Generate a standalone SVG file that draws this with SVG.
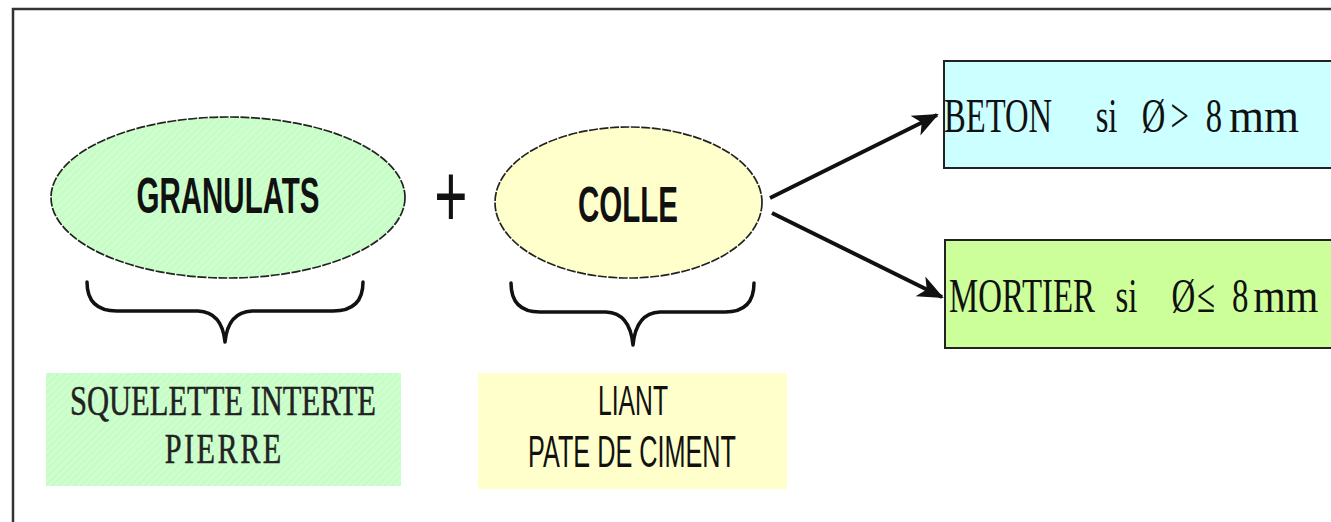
<svg xmlns="http://www.w3.org/2000/svg" width="1331" height="522" viewBox="0 0 1331 522">
  <style>
    .frame { fill: none; stroke: #333; stroke-width: 2.5; }
    .oval { stroke: #222; stroke-width: 1.7; stroke-dasharray: 9 1.5; }
    .title { font-family: "Liberation Sans", Arial, sans-serif; font-weight: bold; font-size: 50px; fill: #111; text-anchor: middle; }
    .sans { font-family: "Liberation Sans", Arial, sans-serif; fill: #111; text-anchor: middle; }
    .slab { font-family: "Liberation Serif", "Times New Roman", serif; fill: #222; font-size: 42px; text-anchor: middle; stroke: #222; stroke-width: 0.5; }
    .serif { font-family: "Liberation Serif", "Times New Roman", serif; fill: #111; font-size: 48px; }
    .box { stroke: #222; stroke-width: 2; }
    .brace { fill: none; stroke: #111; stroke-width: 3.5; stroke-linecap: round; stroke-linejoin: round; }
    .arrow { fill: none; stroke: #111; stroke-width: 4; marker-end: url(#head); }
  </style>
  <defs>
    <pattern id="hatchGreen" width="5" height="5" patternUnits="userSpaceOnUse" patternTransform="rotate(45)">
      <rect width="5" height="5" fill="#ccffcc"/>
      <line x1="0" y1="0" x2="0" y2="5" stroke="#bdf2bd" stroke-width="1.2"/>
    </pattern>
    <marker id="head" markerUnits="userSpaceOnUse" markerWidth="32" markerHeight="28" refX="0" refY="0" viewBox="-28 -14 32 28" orient="auto">
      <path d="M2,0 L-24,-11 L-17,0 L-24,11 Z" fill="#111"/>
    </marker>
  </defs>

  <rect width="1331" height="522" fill="#ffffff"/>
  <rect class="frame" x="13" y="9" width="1400" height="600"/>

  <!-- left term: aggregate -->
  <g id="granulats">
    <ellipse class="oval" cx="228" cy="197.5" rx="177" ry="80.5" fill="url(#hatchGreen)"/>
    <g transform="translate(228,213) scale(0.59,1)">
      <text class="title" x="0" y="0">GRANULATS</text>
    </g>
  </g>

  <!-- plus sign between the two terms, stretched to its tall shape -->
  <g id="plus">
    <g transform="translate(451,227) scale(0.95,1.5)">
      <text class="sans" x="0" y="0" font-size="60">+</text>
    </g>
  </g>

  <!-- right term: binder -->
  <g id="colle">
    <ellipse class="oval" cx="628.5" cy="202.5" rx="133.5" ry="75.5" fill="#ffffcc"/>
    <g transform="translate(628,222) scale(0.59,1)">
      <text class="title" x="0" y="0">COLLE</text>
    </g>
  </g>

  <!-- results: condensed serif rows, words placed in the scaled space -->
  <g id="beton">
    <rect class="box" x="944" y="61" width="420" height="107" fill="#ccffff"/>
    <g transform="translate(944,132) scale(0.68,1)">
      <text class="serif" x="0" y="0">BETON</text>
      <text class="serif" x="223" y="0">si</text>
      <text class="serif" x="291" y="0">Ø</text>
      <text class="serif" x="333" y="0" fill="#555">&gt;</text>
      <text class="serif" x="385" y="0">8</text>
      <text class="serif" x="419" y="0" textLength="103" lengthAdjust="spacingAndGlyphs">mm</text>
    </g>
  </g>

  <g id="mortier">
    <rect class="box" x="945" y="240" width="420" height="108" fill="#ccff99"/>
    <g transform="translate(949,312) scale(0.685,1)">
      <text class="serif" x="0" y="0">MORTIER</text>
      <text class="serif" x="243" y="0">si</text>
      <text class="serif" x="325" y="0">Ø</text>
      <text class="serif" x="362" y="0">≤</text>
      <text class="serif" x="413" y="0">8</text>
      <text class="serif" x="444" y="0" textLength="95" lengthAdjust="spacingAndGlyphs">mm</text>
    </g>
  </g>

  <!-- descriptions under the braces -->
  <g id="squelette">
    <rect x="46" y="373" width="355" height="113" fill="url(#hatchGreen)"/>
    <g transform="translate(223,0) scale(0.72,1)">
      <text class="slab" x="0" y="415" textLength="425" lengthAdjust="spacingAndGlyphs">SQUELETTE INTERTE</text>
      <text class="slab" x="0" y="463" textLength="162" lengthAdjust="spacing">PIERRE</text>
    </g>
  </g>

  <g id="liant">
    <rect x="478" y="373" width="309" height="116" fill="#ffffcc"/>
    <text class="sans" x="633" y="415" font-size="43" textLength="70" lengthAdjust="spacingAndGlyphs">LIANT</text>
    <text class="sans" x="632" y="467" font-size="45" textLength="208" lengthAdjust="spacingAndGlyphs">PATE DE CIMENT</text>
  </g>

  <!-- connectors: braces and arrows -->
  <g id="connectors">
    <path class="brace" d="M87,282 Q87,311 117,311 L198,311 Q222,312 225,342 Q228,312 252,311 L333,311 Q363,311 363,282"/>
    <path class="brace" d="M511,283 Q511,312 540,312 L606,312 Q630,313 633,345 Q636,313 660,312 L725,312 Q754,312 754,283"/>
    <line class="arrow" x1="770" y1="198" x2="937" y2="115"/>
    <line class="arrow" x1="772" y1="213" x2="942" y2="297"/>
  </g>
</svg>
